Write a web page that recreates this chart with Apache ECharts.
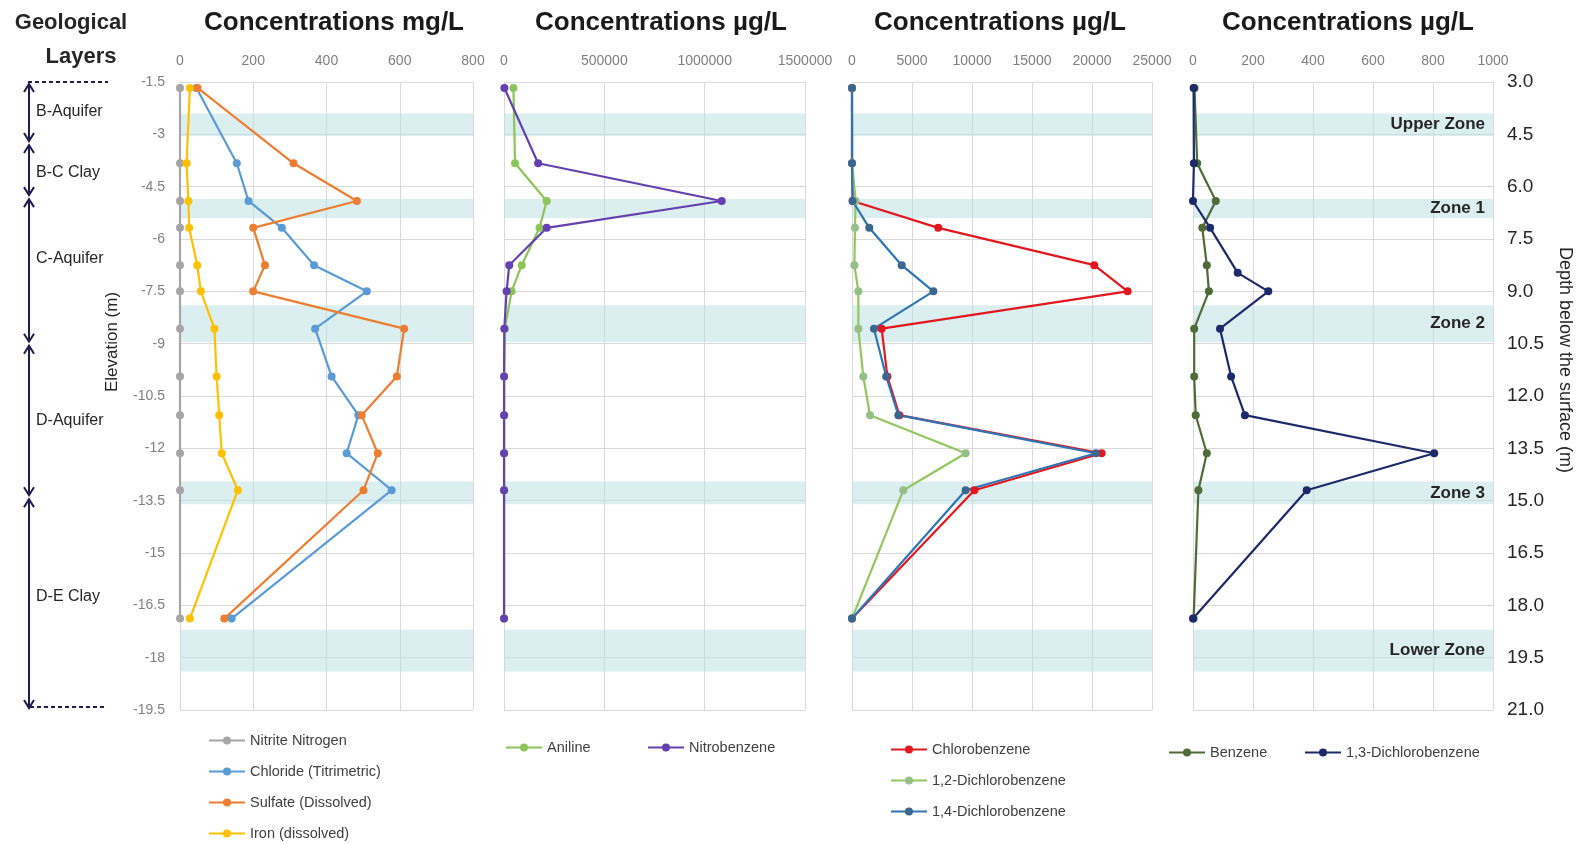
<!DOCTYPE html>
<html>
<head>
<meta charset="utf-8">
<title>Concentration profiles</title>
<script src="https://cdn.jsdelivr.net/npm/echarts/dist/echarts.min.js"></script>
<style>
  html, body { margin: 0; padding: 0; background: #fff; }
  #main { width: 1583px; height: 844px; }
</style>
</head>
<body>
<div id="main"></div>
<script>
// sample elevations (m), same levels in every panel
var elevation = [-1.67, -3.83, -4.91, -5.68, -6.75, -7.5, -8.57, -9.94, -11.05, -12.14, -13.2, -16.88];
var elevationDCB13 = [-1.67, -3.83, -4.91, -5.68, -6.97, -7.5, -8.57, -9.94, -11.05, -12.14, -13.2, -16.88];

// panel 1, mg/L
var nitrite  = [0, 0, 0, 0, 0, 0, 0, 0, 0, 0, 0, 0];
var chloride = [45, 155, 187, 278, 366, 510, 369, 414, 487, 455, 578, 141];
var sulfate  = [48, 310, 483, 200, 232, 200, 612, 592, 496, 540, 501, 121];
var iron     = [27, 18, 23, 25, 47, 57, 94, 100, 107, 114, 158, 27];

// panel 2, ug/L
var aniline      = [47000, 55000, 213000, 177000, 88000, 38000, 4000, 1000, 1000, 1000, 1000, 1000];
var nitrobenzene = [2000, 170000, 1085000, 213000, 26000, 13000, 1500, 500, 300, 200, 100, 100];

// panel 3, ug/L
var chlorobenzene = [0, 0, 50, 7190, 20190, 22970, 2470, 2950, 3950, 20800, 10200, 0];
var dcb12 = [0, 20, 300, 250, 200, 530, 530, 940, 1500, 9470, 4280, 0];
var dcb14 = [0, 0, 50, 1440, 4140, 6780, 1830, 2850, 3860, 20330, 9470, 0];

// panel 4, ug/L
var benzene = [5, 14, 76, 31, 46, 53, 4, 4, 9, 46, 18, 2];
var dcb13   = [2, 3, 0, 57, 149, 251, 90, 127, 173, 804, 379, 0];

// shaded zones (elevation, m)
var zoneNames = ['Upper Zone', 'Zone 1', 'Zone 2', 'Zone 3', 'Lower Zone'];
var zoneFrom  = [-2.4, -4.85, -7.9, -12.95, -17.2];
var zoneTo    = [-3.05, -5.4, -8.95, -13.6, -18.4];

// geological layers (elevation, m)
var layerNames   = ['B-Aquifer', 'B-C Clay', 'C-Aquifer', 'D-Aquifer', 'D-E Clay'];
var layerTop     = [-1.5, -3.25, -4.8, -9.0, -13.4];
var layerBottom  = [-3.25, -4.8, -9.0, -13.4, -19.5];
var layerLabelAt = [-2.35, -4.1, -6.55, -11.2, -16.25];

var titles = ['Concentrations mg/L', 'Concentrations \u00b5g/L', 'Concentrations \u00b5g/L', 'Concentrations \u00b5g/L'];
var xMax = [800, 1500000, 25000, 1000];
var xStep = [200, 500000, 5000, 200];

var FONT = '"Liberation Sans", Arial, sans-serif';
var gridCol = '#d9d9d9';
var ink = '#1d1d4f';
var panelLeft = [180, 504, 852, 1193];
var panelWidth = [293, 301, 300, 300];
var titleX = [334, 661, 1000, 1348];

var chart = echarts.init(document.getElementById('main'));

function pts(vals, elev) {
  return vals.map(function (v, i) { return [v, elev[i]]; });
}

function bands(showLabel) {
  return {
    silent: true,
    itemStyle: { color: 'rgba(183,222,226,0.5)' },
    label: {
      show: showLabel, position: 'insideRight', distance: 8,
      fontFamily: FONT, fontWeight: 'bold', fontSize: 17, color: '#262626'
    },
    data: zoneFrom.map(function (a, i) {
      return [{ yAxis: a, name: zoneNames[i] }, { yAxis: zoneTo[i] }];
    })
  };
}

function line(name, vals, elev, color, gi, marker) {
  return {
    type: 'line', name: name, xAxisIndex: gi, yAxisIndex: gi,
    data: pts(vals, elev),
    symbol: 'circle', symbolSize: 8,
    lineStyle: { color: color, width: 2.2 },
    itemStyle: { color: marker || color },
    z: 3
  };
}

var grids = [], xAxes = [], yAxes = [];
for (var g = 0; g < 4; g++) {
  grids.push({ left: panelLeft[g], width: panelWidth[g], top: 82, height: 628 });
  xAxes.push({
    type: 'value', gridIndex: g, position: 'top', min: 0, max: xMax[g], interval: xStep[g],
    axisLine: { show: false }, axisTick: { show: false },
    axisLabel: { color: '#7f7f7f', fontSize: 14, fontFamily: FONT, margin: 14,
      formatter: function (v) { return String(v); } },
    splitLine: { lineStyle: { color: gridCol } }
  });
  yAxes.push({
    type: 'value', gridIndex: g, min: -19.5, max: -1.5, interval: 1.5,
    axisLine: { show: false }, axisTick: { show: false },
    axisLabel: { show: g === 0, color: '#7f7f7f', fontSize: 14, fontFamily: FONT, margin: 15 },
    splitLine: { lineStyle: { color: gridCol } }
  });
}
// depth axis on the right of panel 4
yAxes.push({
  type: 'value', gridIndex: 3, position: 'right', min: 3, max: 21, interval: 1.5, inverse: true,
  axisLine: { show: false }, axisTick: { show: false }, splitLine: { show: false },
  axisLabel: {
    color: '#262626', fontSize: 19, fontFamily: FONT, margin: 14,
    formatter: function (v) { return v.toFixed(1); }
  }
});
// geology strip
grids.push({ left: 0, width: 130, top: 82, height: 628 });
xAxes.push({ type: 'value', gridIndex: 4, min: 0, max: 130, show: false });
yAxes.push({ type: 'value', gridIndex: 4, min: -19.5, max: -1.5, show: false });

var series = [
  line('Nitrite Nitrogen', nitrite, elevation, '#a5a5a5', 0),
  line('Chloride (Titrimetric)', chloride, elevation, '#5b9bd5', 0),
  line('Sulfate (Dissolved)', sulfate, elevation, '#ed7d31', 0),
  line('Iron (dissolved)', iron, elevation, '#ffc000', 0),
  line('Aniline', aniline, elevation, '#8dc459', 1),
  line('Nitrobenzene', nitrobenzene, elevation, '#6440b0', 1),
  line('Chlorobenzene', chlorobenzene, elevation, '#e3181f', 2),
  line('1,2-Dichlorobenzene', dcb12, elevation, '#92c75e', 2, '#94c087'),
  line('1,4-Dichlorobenzene', dcb14, elevation, '#2e75b6', 2, '#3a6690'),
  line('Benzene', benzene, elevation, '#4f6b38', 3),
  line('1,3-Dichlorobenzene', dcb13, elevationDCB13, '#1c2a6b', 3)
];
series[0].markArea = bands(false);
series[4].markArea = bands(false);
series[6].markArea = bands(false);
series[9].markArea = bands(true);

series.push({
  type: 'custom', xAxisIndex: 4, yAxisIndex: 5, silent: true,
  data: layerNames.map(function (n, i) { return [layerTop[i], layerBottom[i], layerLabelAt[i]]; }),
  renderItem: function (params, api) {
    var i = params.dataIndex;
    var t = api.coord([29, api.value(0)]);
    var b = api.coord([29, api.value(1)]);
    var lab = api.coord([36, api.value(2)]);
    var x = t[0], y1 = t[1] + 2, y2 = b[1] - 2;
    var st = { stroke: ink, lineWidth: 2, fill: null };
    var kids = [
      { type: 'line', shape: { x1: x, y1: y1, x2: x, y2: y2 }, style: st },
      { type: 'polyline', shape: { points: [[x - 5, y1 + 8], [x, y1], [x + 5, y1 + 8]] }, style: st },
      { type: 'polyline', shape: { points: [[x - 5, y2 - 8], [x, y2], [x + 5, y2 - 8]] }, style: st },
      { type: 'text', style: { text: layerNames[i], x: lab[0], y: lab[1], fill: '#262626',
        font: '16px ' + FONT, verticalAlign: 'middle', align: 'left' } }
    ];
    var dash = { stroke: ink, lineWidth: 2, lineDash: [4, 3] };
    if (i === 0) {
      var p = api.coord([28, api.value(0)]), q = api.coord([108, api.value(0)]);
      kids.push({ type: 'line', shape: { x1: p[0], y1: p[1], x2: q[0], y2: q[1] }, style: dash });
    }
    if (i === layerNames.length - 1) {
      var r = api.coord([30, api.value(1)]), s = api.coord([106, api.value(1)]);
      kids.push({ type: 'line', shape: { x1: r[0], y1: r[1] - 3, x2: s[0], y2: s[1] - 3 }, style: dash });
    }
    return { type: 'group', children: kids };
  }
});

var legendText = { color: '#404040', fontSize: 14.5, fontFamily: FONT };
function legend(names, left, top, vertical) {
  return {
    data: names, left: left, top: top, orient: vertical ? 'vertical' : 'horizontal',
    width: 300, height: 140,
    itemWidth: 36, itemHeight: 10, itemGap: 16, padding: 0,
    textStyle: legendText, selectedMode: false
  };
}

var graphics = [
  { type: 'text', x: 71, y: 23, style: { text: 'Geological', align: 'center', verticalAlign: 'middle',
    font: 'bold 22px ' + FONT, fill: '#262626' } },
  { type: 'text', x: 81, y: 57, style: { text: 'Layers', align: 'center', verticalAlign: 'middle',
    font: 'bold 22px ' + FONT, fill: '#262626' } },
  { type: 'text', x: 112, y: 342, rotation: Math.PI / 2, style: { text: 'Elevation (m)', align: 'center',
    verticalAlign: 'middle', font: '17px ' + FONT, fill: '#262626' } },
  { type: 'text', x: 1565, y: 360, rotation: -Math.PI / 2, style: { text: 'Depth below the surface (m)',
    align: 'center', verticalAlign: 'middle', font: '18px ' + FONT, fill: '#262626' } }
];
titles.forEach(function (t, i) {
  graphics.push({ type: 'text', x: titleX[i], y: 23, style: { text: t, align: 'center', verticalAlign: 'middle',
    font: 'bold 26px ' + FONT, fill: '#1a1a1a' } });
});

chart.setOption({
  backgroundColor: '#fff',
  animation: false,
  grid: grids,
  xAxis: xAxes,
  yAxis: yAxes,
  legend: [
    legend(['Nitrite Nitrogen', 'Chloride (Titrimetric)', 'Sulfate (Dissolved)', 'Iron (dissolved)'], 208, 733, true),
    legend(['Aniline'], 505, 740),
    legend(['Nitrobenzene'], 647, 740),
    legend(['Chlorobenzene', '1,2-Dichlorobenzene', '1,4-Dichlorobenzene'], 890, 742, true),
    legend(['Benzene'], 1168, 745),
    legend(['1,3-Dichlorobenzene'], 1304, 745)
  ],
  graphic: graphics,
  series: series
});
</script>
</body>
</html>
